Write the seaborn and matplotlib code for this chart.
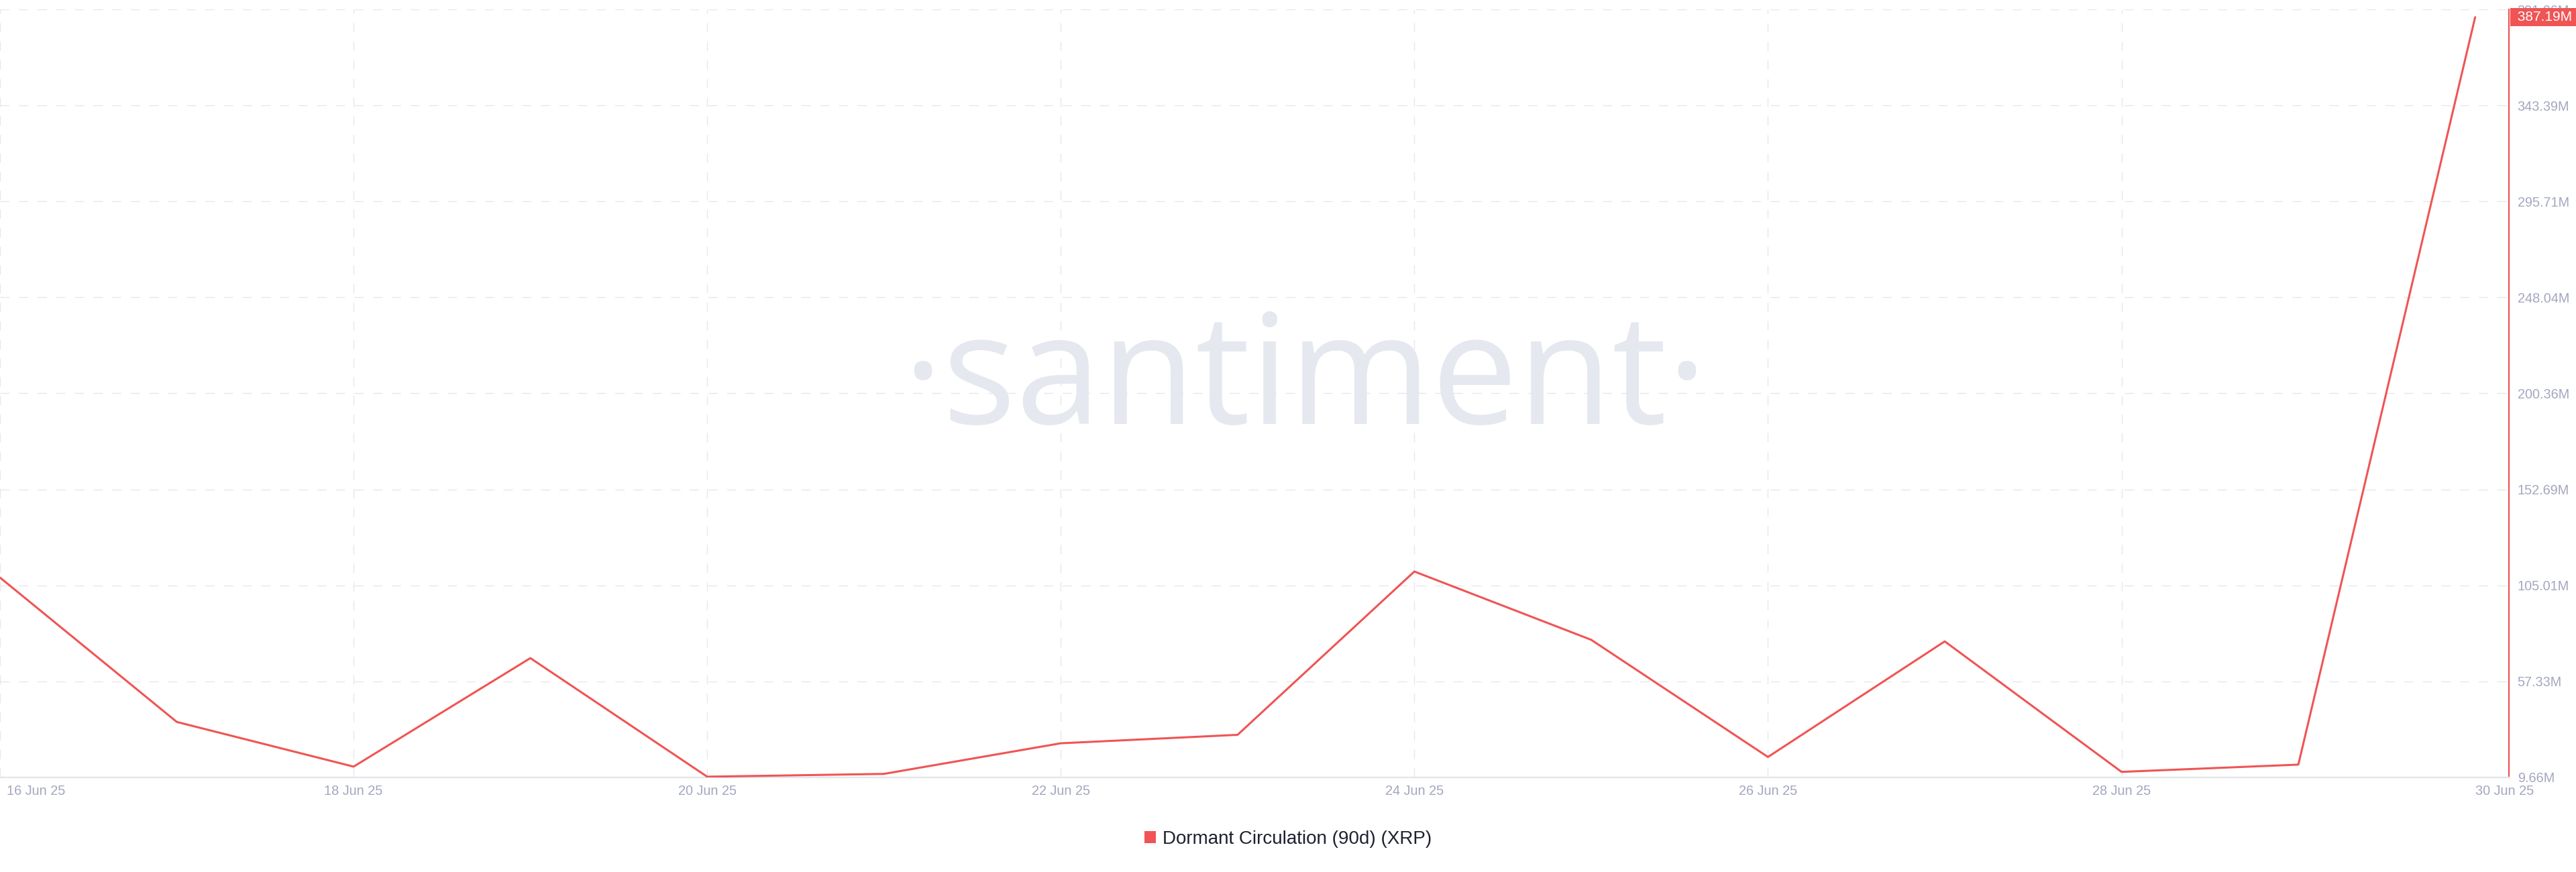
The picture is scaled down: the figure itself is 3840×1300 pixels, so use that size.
import pandas as pd
import numpy as np
import matplotlib
matplotlib.use('Agg')
import matplotlib.pyplot as plt
from matplotlib.patches import Patch
import matplotlib.transforms as mtransforms
import seaborn as sns

# Dữ liệu (triệu XRP)
dates = pd.date_range('2025-06-16', '2025-06-30', freq='D')
dormant_90d = [108.9, 37.2, 15.0, 68.9, 10.0, 11.4, 26.6, 30.8,
               111.9, 78.0, 19.8, 77.2, 12.4, 16.0, 387.19]
y_ticks = [9.66, 57.33, 105.01, 152.69, 200.36, 248.04, 295.71, 343.39, 391.06]
series_name = 'Dormant Circulation (90d) (XRP)'

LINE_RED = '#F05454'
TICK_GRAY = '#A3A7BF'
GRID_GRAY = '#E6E7ED'

sns.set_theme(style='white')
plt.rcParams['font.family'] = ['Liberation Sans', 'DejaVu Sans']

df = pd.DataFrame({'date': dates, 'value': dormant_90d})

fig = plt.figure(figsize=(38.4, 13), dpi=100)
ax = fig.add_axes([0.0, 0.1085, 0.974, 0.8807])

# watermark
ax.text(0.52, 0.46, '\u00b7santiment\u00b7', transform=ax.transAxes,
        ha='center', va='baseline', fontsize=165, color='#E6E8F0',
        family=['Open Sans', 'DejaVu Sans'], zorder=0)

sns.lineplot(data=df, x='date', y='value', ax=ax, color=LINE_RED, lw=2.2, zorder=3)

ax.set_xlim(dates[0], dates[-1] + pd.Timedelta(hours=4.6))
ax.set_ylim(y_ticks[0], y_ticks[-1])

tick_dates = dates[::2]
ax.set_xticks(tick_dates)
ax.set_xticklabels([d.strftime('%d %b %y') for d in tick_dates])
ax.set_yticks(y_ticks)
ax.set_yticklabels([f'{v:.2f}M' for v in y_ticks])

ax.yaxis.tick_right()
ax.tick_params(axis='both', length=0, labelsize=14.3, labelcolor=TICK_GRAY)
ax.tick_params(axis='x', pad=8)
ax.tick_params(axis='y', pad=9)

ax.grid(True, color=GRID_GRAY, linestyle=(0, (10, 10)), lw=1.0)
ax.set_axisbelow(True)
ax.xaxis.get_gridlines()[-1].set_visible(False)

for s in ['left', 'top']:
    ax.spines[s].set_visible(False)
ax.spines['right'].set_color(LINE_RED)
ax.spines['right'].set_linewidth(1.6)
ax.spines['bottom'].set_color('#E3E4EA')
ax.spines['bottom'].set_linewidth(1.6)

labels = ax.get_xticklabels()
labels[0].set_ha('left')
labels[0].set_transform(labels[0].get_transform() +
                        mtransforms.ScaledTranslation(0.1, 0, fig.dpi_scale_trans))
labels[-1].set_ha('left')

ax.set_xlabel('')
ax.set_ylabel('')

# nhãn giá trị cuối cùng
trans = mtransforms.blended_transform_factory(ax.transAxes, ax.transData)
ax.text(1.0017, dormant_90d[-1], f' {dormant_90d[-1]:.2f}M ', transform=trans,
        ha='left', va='center', fontsize=15, color='white', zorder=5,
        bbox=dict(boxstyle='square,pad=0.2', fc=LINE_RED, ec='none'), clip_on=False)

handle = Patch(facecolor=LINE_RED, edgecolor='none')
fig.legend([handle], [series_name], loc='center', bbox_to_anchor=(0.5, 0.038),
           frameon=False, fontsize=20, handlelength=0.6, handleheight=0.6,
           handletextpad=0.35, labelcolor='#1E2130')

fig.savefig('out.png', dpi=100, facecolor='white')
